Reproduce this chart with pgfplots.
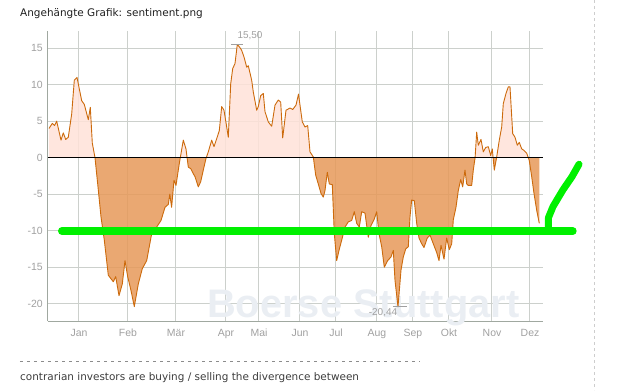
\documentclass[border=0pt]{standalone}
\usepackage{fontspec}
\setmainfont{Liberation Sans}
\newfontfamily\verd{DejaVu Sans}
\usepackage{pgfplots}
\pgfplotsset{compat=1.18}
\usepackage{pgfplotstable}

\definecolor{gridc}{RGB}{204,208,204}
\definecolor{axisc}{RGB}{160,168,160}
\definecolor{tickc}{RGB}{160,160,160}
\definecolor{linec}{RGB}{204,106,12}
\definecolor{negc}{RGB}{230,153,89}
\definecolor{posc}{RGB}{255,226,216}
\definecolor{mygreen}{RGB}{0,240,0}
\definecolor{wmc}{RGB}{234,238,243}
\definecolor{headc}{RGB}{30,30,30}
\definecolor{bodyc}{RGB}{60,60,60}
\definecolor{dashc}{RGB}{140,140,140}
\definecolor{vlinec}{RGB}{205,205,205}

\pgfplotstableread{
x v
49 4.0
52.3 4.7
54.5 4.4
56.7 5.0
61 2.4
63.3 3.4
65.7 2.5
68.3 2.8
71.7 6.0
74.3 10.6
77 11.0
81.7 7.8
84.3 7.3
88.3 5.2
90.3 6.9
92.3 2.0
95 0.0
97.7 -3.6
101 -8.1
104.3 -11.3
108.3 -16.1
113.3 -17.0
115.7 -16.3
119 -18.9
122.3 -17.3
125 -14.1
127.7 -16.3
131 -18.2
134.3 -20.4
138.3 -17.3
142.3 -15.2
146.7 -14.1
151.7 -10.4
156.7 -9.5
161 -8.6
165 -6.8
168.3 -6.4
169.8 -5.0
171.6 -6.8
174 -3.1
176 -3.8
179.3 -0.8
180.3 0.0
183.3 2.4
186 1.2
187.1 0.0
188.3 -1.3
190.7 -1.5
193.3 -2.2
195 -2.6
198.3 -4.0
200.7 -3.3
203.3 -1.7
206 -0.1
206.3 0.0
208.3 0.8
211.7 2.4
214 1.5
216.7 2.6
219.3 3.7
221.7 7.0
224 6.5
226.7 4.2
228.3 2.8
230.7 10.1
232.7 12.2
235 12.9
237.3 15.5
239.3 15.2
241.7 14.7
244 13.8
246.7 12.4
248.3 12.6
251.7 10.6
253.3 9.0
256.7 6.5
258.3 7.0
260.7 8.5
263.3 8.8
265 6.3
268.3 4.9
271.7 4.3
275 7.2
278.3 7.9
280.7 7.6
282.7 2.7
286 6.5
290 6.8
292.7 6.6
296 7.2
298.5 8.7
302.3 4.9
305 4.2
307.7 4.4
310 0.8
313.3 0.1
313.4 0.0
315.7 -2.4
318.3 -3.6
321 -4.9
323.3 -5.4
325 -4.5
327.3 -2.0
329.3 -3.6
332.3 -3.7
334.3 -10.4
336.7 -14.1
339 -12.7
341.7 -11.3
345 -9.5
348.3 -8.8
351.7 -8.6
354.3 -7.4
356.7 -9.0
359.3 -9.5
361.7 -7.4
365 -7.6
368.3 -10.9
371 -9.3
374.3 -8.4
376.7 -7.4
379 -10.4
381.7 -12.2
384.3 -15.0
387.7 -14.1
391 -13.6
393.3 -12.7
395 -16.8
398 -20.44
401 -15.4
403.3 -13.6
405.7 -12.5
408.3 -12.2
410 -8.1
411.7 -5.8
414.3 -5.9
416.7 -9.0
419 -11.0
421.7 -11.8
424 -12.3
427.3 -11.0
430 -10.6
433.3 -11.8
436.7 -13.0
439 -14.1
441 -12.0
444 -13.9
446.7 -11.0
449.3 -12.6
451.7 -11.8
453.3 -8.5
456 -6.8
458.3 -4.5
460.7 -3.0
462.7 -4.0
465 -1.7
466.7 -3.6
468.3 -3.8
471.7 -3.8
473.3 -1.7
475 -0.1
475.1 0.0
476.7 3.5
478.3 1.7
481 2.5
483.3 0.8
485.7 1.4
488.3 1.5
490.7 0.3
492.3 1.2
493.1 0.0
494.3 -1.7
496.6 0.0
496.7 0.1
499.3 2.4
501.7 4.2
503.3 7.4
506 8.8
508.3 9.7
510 9.7
512.7 3.3
515 2.8
517.3 1.7
519.3 2.1
521.7 1.2
524 1.0
526.7 0.6
528.3 0.0
529.3 -0.4
531.7 -2.6
534 -4.9
536.7 -7.2
539.3 -9.0
}\sent

\begin{document}
\begin{tikzpicture}
\begin{axis}[
  at={(0,0)}, anchor=south west,
  x=1bp, y=7.3bp,
  xmin=48, xmax=543, ymin=-22.4, ymax=17.3,
  axis lines=left,
  axis line style={axisc, line width=1bp, -},
  clip=false,
  xmajorgrids, ymajorgrids,
  grid style={gridc, line width=1bp},
  major tick length=0pt,
  xtick={79,128,176,226,259,300,336,377,413,449,492,530},
  xticklabels={Jan,Feb,Mär,Apr,Mai,Jun,Jul,Aug,Sep,Okt,Nov,Dez},
  ytick={-20,-15,-10,-5,0,5,10,15},
  yticklabels={-20,-15,-10,-5,0,5,10,15},
  tick label style={font=\fontsize{10.5}{12}\selectfont, text=tickc},
  yticklabel style={anchor=east, inner sep=0pt, xshift=-5bp},
  xticklabel style={anchor=base, inner sep=0pt, yshift=-15bp},
]
\node[anchor=base west, inner sep=0pt, font=\bfseries\fontsize{40}{40}\selectfont, text=wmc] at (axis cs:207,-21.9) {Boerse Stuttgart};

\addplot[fill=posc, fill opacity=0.85, draw=none, y filter/.expression={max(y,0)}] table[x=x, y=v] {\sent} \closedcycle;
\addplot[fill=negc, fill opacity=0.85, draw=none, y filter/.expression={min(y,0)}] table[x=x, y=v] {\sent} \closedcycle;

\addplot[linec, line width=0.9bp, line join=round] table[x=x, y=v] {\sent};
\addplot[black, line width=0.9bp] coordinates {(48,0) (543,0)};

\addplot[tickc, line width=1bp] coordinates {(231,15.5) (243,15.5)};
\node[font=\fontsize{10}{12}\selectfont, text=tickc, inner sep=0pt] at (axis cs:250,16.75) {15,50};
\addplot[tickc, line width=1bp] coordinates {(393,-20.44) (407,-20.44)};
\node[font=\fontsize{10}{12}\selectfont, text=tickc, inner sep=0pt] at (axis cs:383,-21.2) {-20,44};

\addplot[mygreen, line width=8bp, line cap=round] coordinates {(62,-10.05) (572.7,-10.05)};
\addplot[mygreen, line width=7bp, line cap=round, line join=round] coordinates {(548.5,-10.05) (548.5,-8.2) (553,-6.7) (563,-4.4) (572,-2.6) (579,-0.9)};
\end{axis}

\node[anchor=base west, inner sep=0pt, font=\verd\fontsize{10.5}{12}\selectfont, text=headc] at (-28bp,304.3bp) {Angehängte Grafik: sentiment.png};
\draw[dashc, line width=0.8bp, dash pattern=on 3bp off 4bp] (-28bp,-39.9bp) -- (372bp,-39.9bp);
\node[anchor=base west, inner sep=0pt, font=\verd\fontsize{10.5}{12}\selectfont, text=bodyc] at (-28bp,-59.2bp) {contrarian investors are buying / selling the divergence between};
\draw[vlinec, line width=0.8bp, dash pattern=on 3bp off 3bp] (546bp,320.8bp) -- (546bp,-69.2bp);
\path (-48bp,-69.2bp) rectangle (595bp,320.8bp);
\end{tikzpicture}
\end{document}
